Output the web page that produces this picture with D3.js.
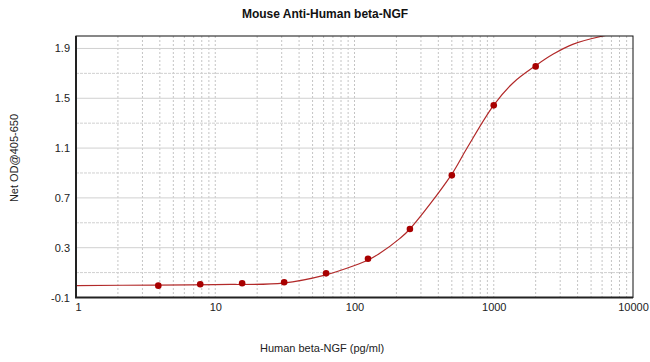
<!DOCTYPE html>
<html>
<head>
<meta charset="utf-8">
<script src="https://cdn.jsdelivr.net/npm/d3@7"></script>
<style>
  body { margin: 0; background: #fff; }
  text { font-family: "Liberation Sans", Arial, sans-serif; }
</style>
</head>
<body>
<div id="chart"></div>
<script>
// standard concentrations (pg/ml) and measured OD
var conc = [3.9, 7.8, 15.6, 31.25, 62.5, 125, 250, 500, 1000, 2000];
var od = [-0.005, 0.006, 0.014, 0.022, 0.094, 0.211, 0.45, 0.881, 1.443, 1.756];

// fitted curve
var fitX = [1, 3.8, 10, 30.7, 61.4, 100, 125, 152, 212, 250, 493, 640, 1000, 1381, 2000, 2677, 3726, 6095, 10000];
var fitY = [-0.004, 0.0, 0.004, 0.016, 0.08, 0.157, 0.201, 0.255, 0.375, 0.45, 0.881, 1.097, 1.445, 1.625, 1.762, 1.855, 1.935, 2.0, 2.04];

var yTicks = [-0.1, 0.3, 0.7, 1.1, 1.5, 1.9];
var xTicks = [1, 10, 100, 1000, 10000];

var width = 650, height = 362;
var pLeft = 76, pRight = 633, pTop = 36, pBottom = 297.5;

var svg = d3.select("#chart").append("svg")
    .attr("width", width)
    .attr("height", height);

var x = d3.scaleLog().domain([1, 10000]).range([pLeft, pRight]);
var y = d3.scaleLinear().domain([-0.1, 2.0]).range([pBottom, pTop]);

//grid lines
var minor = [];
for (var d = 1; d < 10000; d *= 10) {
    for (var k = 2; k <= 10; k++) {
        minor.push(d * k);
    }
}
svg.append("g")
    .selectAll("line")
    .data(minor.filter(function (v) { return v < 10000; }))
    .enter().append("line")
    .attr("x1", function (v) { return x(v); })
    .attr("x2", function (v) { return x(v); })
    .attr("y1", pTop)
    .attr("y2", pBottom)
    .attr("stroke", "#c4c4c4")
    .attr("stroke-dasharray", "2,2");

var hgrid = d3.range(0, 11).map(function (i) { return -0.1 + i * 0.2; });
svg.append("g")
    .selectAll("line")
    .data(hgrid.slice(1))
    .enter().append("line")
    .attr("x1", pLeft)
    .attr("x2", pRight)
    .attr("y1", function (v) { return y(v); })
    .attr("y2", function (v) { return y(v); })
    .attr("stroke", "#d0d0d0")
    .attr("stroke-dasharray", function (v, i) { return i % 2 ? "none" : "3,1"; });

// clip the fitted line to the plot
svg.append("clipPath").attr("id", "plot")
    .append("rect")
    .attr("x", pLeft).attr("y", pTop)
    .attr("width", pRight - pLeft).attr("height", pBottom - pTop);

var fit = fitX.map(function (v, i) { return [v, fitY[i]]; });
var line = d3.line()
    .x(function (p) { return x(p[0]); })
    .y(function (p) { return y(p[1]); })
    .curve(d3.curveCatmullRom.alpha(0.5));

svg.append("path")
    .datum(fit)
    .attr("clip-path", "url(#plot)")
    .attr("d", line)
    .attr("fill", "none")
    .attr("stroke", "#b22a2a")
    .attr("stroke-width", 1.2);

svg.append("g")
    .selectAll("circle")
    .data(conc)
    .enter().append("circle")
    .attr("cx", function (v) { return x(v); })
    .attr("cy", function (v, i) { return y(od[i]); })
    .attr("r", 3.3)
    .attr("fill", "#a80000");

//frame
svg.append("rect")
    .attr("x", pLeft).attr("y", pTop)
    .attr("width", pRight - pLeft).attr("height", pBottom - pTop)
    .attr("fill", "none")
    .attr("stroke", "#111")
    .attr("stroke-width", 1);
svg.append("path")
    .attr("d", "M" + pLeft + "," + pTop + "V" + pBottom + "H" + pRight)
    .attr("fill", "none")
    .attr("stroke", "#222")
    .attr("stroke-width", 2);

// axes
var yAxis = d3.axisLeft(y).tickValues(yTicks).tickSize(0).tickPadding(6)
    .tickFormat(function (v) { return v.toFixed(1); });
var gy = svg.append("g").attr("transform", "translate(" + pLeft + ",0)").call(yAxis);
gy.select(".domain").remove();
gy.selectAll("text").attr("font-size", 11).attr("fill", "#222")
    .attr("font-family", "Liberation Sans, Arial, sans-serif");

var xAxis = d3.axisBottom(x).tickValues(xTicks).tickSize(0).tickPadding(6)
    .tickFormat(d3.format("d"));
var gx = svg.append("g").attr("transform", "translate(0," + pBottom + ")").call(xAxis);
gx.select(".domain").remove();
gx.selectAll("text").attr("font-size", 11).attr("fill", "#222")
    .attr("font-family", "Liberation Sans, Arial, sans-serif")
    .attr("dx", function (v) { return v === 1 ? 2 : 0; });

// titles
svg.append("text")
    .attr("x", 325).attr("y", 18)
    .attr("text-anchor", "middle")
    .attr("font-size", 12).attr("font-weight", "bold")
    .attr("fill", "#111")
    .text("Mouse Anti-Human beta-NGF");

svg.append("text")
    .attr("transform", "translate(18,158) rotate(-90)")
    .attr("text-anchor", "middle")
    .attr("font-size", 11).attr("fill", "#222")
    .text("Net OD@405-650");

svg.append("text")
    .attr("x", 322).attr("y", 352)
    .attr("text-anchor", "middle")
    .attr("font-size", 11).attr("fill", "#222")
    .text("Human beta-NGF (pg/ml)");
</script>
</body>
</html>
